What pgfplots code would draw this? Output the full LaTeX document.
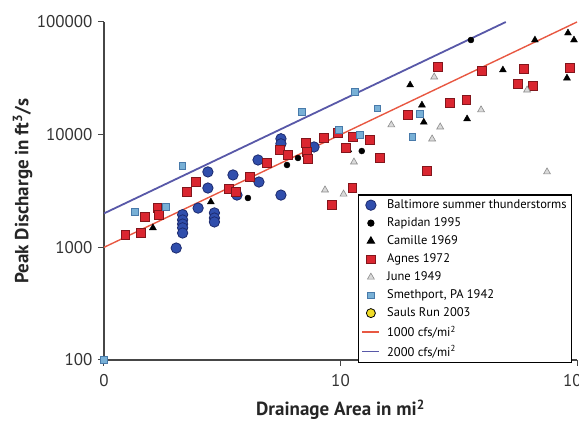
\documentclass[border=0pt]{standalone}
\usepackage{fontspec}
\setmainfont{PT Sans}
\usepackage{pgfplots}
\pgfplotsset{compat=1.18}
\definecolor{baltblue}{RGB}{48,78,172}
\definecolor{baltdark}{RGB}{28,42,110}
\definecolor{agnesred}{RGB}{218,38,48}
\definecolor{agnesdark}{RGB}{130,22,28}
\definecolor{smethblue}{RGB}{120,176,214}
\definecolor{smethdark}{RGB}{72,122,170}
\definecolor{junegray}{RGB}{218,218,218}
\definecolor{junedark}{RGB}{140,140,140}
\definecolor{redline}{RGB}{232,88,66}
\definecolor{blueline}{RGB}{88,88,168}
\definecolor{axisgray}{RGB}{70,70,70}
\definecolor{saulsyellow}{RGB}{240,220,40}
\begin{document}
\begin{tikzpicture}
\begin{axis}[
 at={(0,0)}, anchor=south west,
 scale only axis, width=473pt, height=338pt,
 xmode=log, ymode=log,
 xmin=1, xmax=100, ymin=100, ymax=100000,
 axis x line=bottom, axis y line=left,
 axis line style={-, draw=axisgray, line width=1.4pt},
 xtick={1,10,100}, xticklabels={0,10,100},
 ytick={100,1000,10000,100000}, yticklabels={100,1000,10000,100000},
 xminorticks=false, yminorticks=false,
 tick align=outside, major tick length=6pt,
 tick style={draw=axisgray, line width=1pt},
 ticklabel style={font=\fontsize{17}{20}\selectfont, text=black!80},
 xticklabel style={yshift=-5pt},
 yticklabel style={xshift=-2pt},
 xlabel={Drainage Area in mi\textsuperscript{2}},
 ylabel={Peak Discharge in ft\textsuperscript{3}/s},
 label style={font=\fontsize{19}{22}\selectfont\bfseries, text=black!85},
 xlabel style={at={(axis description cs:0.5,-0.148)}, anchor=center},
 ylabel style={at={(axis description cs:-0.172,0.5)}, anchor=center},
 legend cell align=left,
 legend style={at={(axis description cs:0.537,0.49)}, anchor=north west,
   draw=black, line width=1.2pt, font=\fontsize{12.5}{14}\selectfont,
   row sep=3.6pt, inner xsep=3pt, inner ysep=3pt,
   /tikz/every odd column/.append style={column sep=5pt}},
 clip=false,
]
% reference lines (drawn first, under the points)
\addplot[forget plot, redline, line width=1.4pt] coordinates {(1,1000) (100,100000)};
\addplot[forget plot, blueline, line width=1.8pt] coordinates {(1,2000) (50,100000)};

% Baltimore summer thunderstorms
\addplot[only marks, mark=*, mark size=5.2pt, mark options={fill=baltblue, draw=baltdark, line width=0.8pt}] coordinates {
(2.02,986) (2.15,1950) (2.15,1750) (2.15,1610) (2.15,1490) (2.15,1340)
(2.50,2230) (2.93,2020) (2.93,1820) (2.93,1680) (2.75,4670) (2.75,3360)
(3.51,4390) (3.65,2910) (4.48,5960) (4.52,3800) (5.60,9200) (5.60,8300)
(5.60,2910) (7.73,7780)
};
\addlegendentry{Baltimore summer thunderstorms}

% Rapidan 1995
\addplot[only marks, mark=*, mark size=3pt, mark options={fill=black, draw=black}] coordinates {
(4.06,2740) (5.94,5380) (6.61,6210) (12.3,7160) (35.6,69200)
};
\addlegendentry{Rapidan 1995}

% Camille 1969
\addplot[only marks, mark=triangle*, mark size=4pt, mark options={fill=black, draw=black}] coordinates {
(1.61,1490) (2.83,2530) (10.8,7310) (19.7,27600) (22.1,18300) (22.5,12900)
(34.3,13800) (48.6,37500) (66.4,69200) (90.7,31800) (91.6,79800) (97.1,69200)
};
\addlegendentry{Camille 1969}

% Agnes 1972
\addplot[only marks, mark=square*, mark size=4.3pt, mark options={fill=agnesred, draw=agnesdark, line width=0.6pt}] coordinates {
(1.23,1290) (1.43,1340) (1.49,1860) (1.68,2230) (1.71,1940) (2.24,3100)
(2.45,3800) (3.38,3300) (3.6,3100) (4.14,4210) (4.89,5610) (5.55,7310)
(6.0,6600) (7.15,8440) (7.22,7020) (7.29,6080) (8.51,9340) (9.76,10400)
(10.5,7620) (11.3,9530) (13.3,8970) (14.7,6210) (11.2,3360) (9.21,2380)
(19.3,15000) (23.2,4800) (25.8,39900) (39.7,36700) (59.7,38300) (93.4,39100)
(56.3,28200) (65.2,27000) (29.0,19100) (34.0,20300)
};
\addlegendentry{Agnes 1972}

% June 1949
\addplot[only marks, mark=triangle*, mark size=4pt, mark options={fill=junegray, draw=junedark, line width=0.6pt}] coordinates {
(24.9,32500) (39.3,16600) (26.4,11700) (24.4,9160) (74.7,4670) (16.4,12200)
(11.4,5720) (8.6,3230) (10.3,2970) (61.5,24900)
};
\addlegendentry{June 1949}

% Smethport, PA 1942
\addplot[only marks, mark=square*, mark size=3.3pt, mark options={fill=smethblue, draw=smethdark, line width=0.6pt}] coordinates {
(1,100) (1.35,2060) (1.83,2280) (2.14,5270) (6.87,15900) (11.5,23900)
(14.3,17200) (21.7,15300) (20.1,9530) (9.86,11000) (12.1,9930)
};
\addlegendentry{Smethport, PA 1942}

\addlegendimage{only marks, mark=*, mark size=4.5pt, mark options={fill=saulsyellow, draw=black, line width=0.8pt}}
\addlegendentry{Sauls Run 2003}
\addlegendimage{draw=redline, line width=1.5pt}
\addlegendentry{1000 cfs/mi\textsuperscript{2}}
\addlegendimage{draw=blueline, line width=1.5pt}
\addlegendentry{2000 cfs/mi\textsuperscript{2}}
\end{axis}
\pgfresetboundingbox
\useasboundingbox (-104pt,-62pt) rectangle (475pt,360pt);
\end{tikzpicture}
\end{document}
